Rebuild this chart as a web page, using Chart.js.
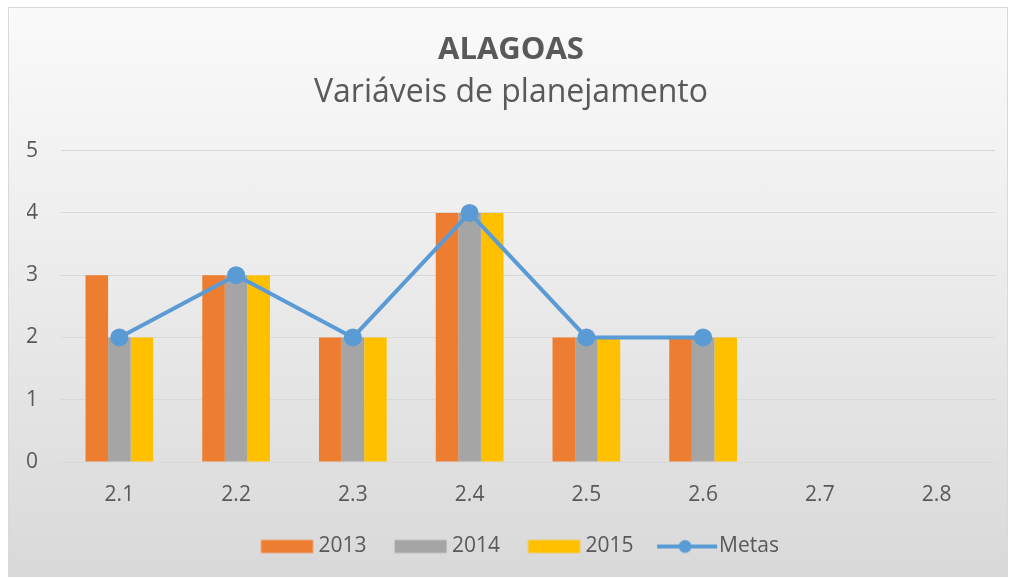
<!DOCTYPE html>
<html>
<head>
<meta charset="utf-8">
<script src="https://cdn.jsdelivr.net/npm/chart.js@4/dist/chart.umd.min.js"></script>
<style>
  body { margin: 0; background: #ffffff; overflow: hidden; }
  #quadro {
    position: absolute; left: 8px; top: 7px; width: 998px; height: 568px;
    border: 1px solid #d9d9d9;
    background: linear-gradient(to bottom, #fafafa 0%, #ececec 45%, #d9d9d9 100%);
  }
</style>
</head>
<body>
<div id="quadro"><canvas id="grafico" width="998" height="568"></canvas></div>
<script>
// categorias e séries
var categorias = ['2.1', '2.2', '2.3', '2.4', '2.5', '2.6', '2.7', '2.8'];
var serie2013 = [3, 3, 2, 4, 2, 2, null, null];
var serie2014 = [2, 3, 2, 4, 2, 2, null, null];
var serie2015 = [2, 3, 2, 4, 2, 2, null, null];
var metas = [2, 3, 2, 4, 2, 2, null, null];
var ticksY = [0, 1, 2, 3, 4, 5];

var corTexto = '#595959';
var fonte = "'Open Sans', sans-serif";

// desenha o marcador da legenda (caixa ou linha com ponto)
// o espaço vazio à esquerda faz o afastamento entre os itens
function marcador(cor, linha) {
  var c = document.createElement('canvas');
  c.width = 160; c.height = 16;
  var g = c.getContext('2d');
  g.fillStyle = cor;
  if (linha) {
    g.strokeStyle = cor; g.lineWidth = 4;
    g.beginPath(); g.moveTo(61, 8); g.lineTo(121, 8); g.stroke();
    g.beginPath(); g.arc(89, 8, 6.5, 0, Math.PI * 2); g.fill();
  } else {
    g.fillRect(65.5, 1.5, 52, 13);
  }
  return c;
}

function montaGrafico() {
  var ctx = document.getElementById('grafico').getContext('2d');
  new Chart(ctx, {
    type: 'bar',
    data: {
      labels: categorias,
      datasets: [
        { label: '2013', data: serie2013, backgroundColor: '#ED7D31', order: 1,
          categoryPercentage: 0.58, barPercentage: 1.0, legendImg: marcador('#ED7D31') },
        { label: '2014', data: serie2014, backgroundColor: '#A5A5A5', order: 1,
          categoryPercentage: 0.58, barPercentage: 1.0, legendImg: marcador('#A5A5A5') },
        { label: '2015', data: serie2015, backgroundColor: '#FFC000', order: 1,
          categoryPercentage: 0.58, barPercentage: 1.0, legendImg: marcador('#FFC000') },
        { type: 'line', label: 'Metas', data: metas, order: 0,
          borderColor: '#5B9BD5', backgroundColor: '#5B9BD5', borderWidth: 4,
          pointRadius: 7, pointHoverRadius: 7, pointBackgroundColor: '#5B9BD5',
          pointBorderColor: '#5B9BD5', tension: 0, spanGaps: false,
          legendImg: marcador('#5B9BD5', true) }
      ]
    },
    options: {
      responsive: false,
      animation: false,
      layout: { padding: { left: 18, right: 12, top: 10, bottom: 9 } },
      plugins: {
        tooltip: { enabled: false },
        title: {
          display: true, text: 'ALAGOAS', color: corTexto,
          font: { family: fonte, size: 31, weight: 'bold' },
          padding: { top: 14, bottom: 4 }
        },
        subtitle: {
          display: true, text: 'Variáveis de planejamento', color: corTexto,
          font: { family: fonte, size: 32, weight: 'normal' },
          padding: { top: 0, bottom: 39 }
        },
        legend: {
          position: 'bottom',
          labels: {
            color: corTexto,
            font: { family: fonte, size: 21 },
            usePointStyle: true,
            pointStyleWidth: 65,
            boxHeight: 16,
            padding: 10,
            sort: function (a, b) { return a.datasetIndex - b.datasetIndex; },
            generateLabels: function (chart) {
              var itens = Chart.defaults.plugins.legend.labels.generateLabels(chart);
              itens.forEach(function (it) {
                it.pointStyle = chart.data.datasets[it.datasetIndex].legendImg;
              });
              return itens;
            }
          }
        }
      },
      scales: {
        x: {
          grid: { display: false },
          border: { display: false },
          afterFit: function (ax) { ax.height = 64; },
          ticks: { color: corTexto, font: { family: fonte, size: 21 }, padding: 12 }
        },
        y: {
          min: 0, max: 5,
          afterBuildTicks: function (ax) { ax.ticks = ticksY.map(function (v) { return { value: v }; }); },
          afterFit: function (ax) { ax.width = 34; },
          grid: { color: '#d9d9d9', drawTicks: false },
          border: { display: false },
          ticks: { color: corTexto, font: { family: fonte, size: 21 }, padding: 23 }
        }
      }
    }
  });
}

montaGrafico();
</script>
</body>
</html>
